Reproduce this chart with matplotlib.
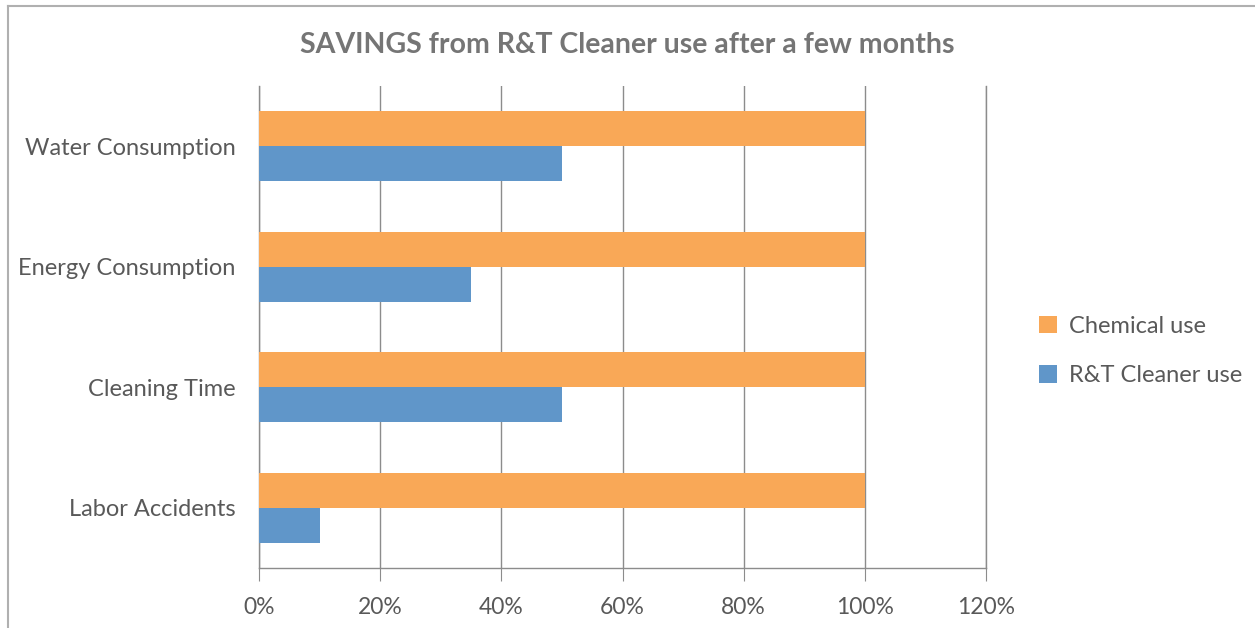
import numpy as np
import matplotlib.pyplot as plt
from matplotlib.lines import Line2D
from matplotlib.ticker import PercentFormatter

plt.rcParams['font.family'] = ['Lato', 'DejaVu Sans']

categories = ['Labor Accidents', 'Cleaning Time', 'Energy Consumption', 'Water Consumption']
chemical = [100, 100, 100, 100]
cleaner = [10, 50, 35, 50]
series_names = ['Chemical use', 'R&T Cleaner use']
ticks = [0, 20, 40, 60, 80, 100, 120]

orange = '#F9A857'
blue = '#6096C9'
text_gray = '#595959'
grid_gray = '#8C8C8C'

fig = plt.figure(figsize=(12.55, 6.28), dpi=100)
ax = fig.add_axes([259 / 1255, 60 / 628, 727 / 1255, 482 / 628])

y = np.arange(len(categories))
h = 0.29
ax.barh(y + h / 2, chemical, height=h, color=orange, label=series_names[0], zorder=3)
ax.barh(y - h / 2, cleaner, height=h, color=blue, label=series_names[1], zorder=3)

ax.set_xlim(0, 120)
ax.set_ylim(-0.5, 3.5)
ax.set_xticks(ticks)
ax.xaxis.set_major_formatter(PercentFormatter(decimals=0))
ax.set_yticks(y)
ax.set_yticklabels(categories)

ax.grid(axis='x', color=grid_gray, linewidth=1, zorder=0)
ax.spines['top'].set_visible(False)
for s in ['bottom', 'left', 'right']:
    ax.spines[s].set_color(grid_gray)
    ax.spines[s].set_linewidth(1)
ax.tick_params(axis='x', length=9, color=grid_gray, labelsize=16.5,
               labelcolor=text_gray, pad=12)
ax.tick_params(axis='y', length=0, labelsize=17, labelcolor=text_gray, pad=17)

fig.text(0.5, 1 - 45 / 628, 'SAVINGS from R&T Cleaner use after a few months',
         ha='center', va='center', fontsize=20.5, fontweight='bold', color='#757575')

leg = ax.legend(loc='center left', bbox_to_anchor=(1018 / 1255, 1 - 351 / 628),
                bbox_transform=fig.transFigure, frameon=False, fontsize=17,
                labelcolor=text_gray, handlelength=0.75, handleheight=0.75,
                handletextpad=0.5, labelspacing=1.2)

# outer chart border (left and top visible)
fig.add_artist(Line2D([7.5 / 1255, 7.5 / 1255], [0, 1 - 6 / 628],
                      transform=fig.transFigure, color='#B0B0B0', linewidth=1.5))
fig.add_artist(Line2D([7.5 / 1255, 1], [1 - 6 / 628, 1 - 6 / 628],
                      transform=fig.transFigure, color='#B0B0B0', linewidth=1.5))

fig.savefig('out.png', dpi=100)
